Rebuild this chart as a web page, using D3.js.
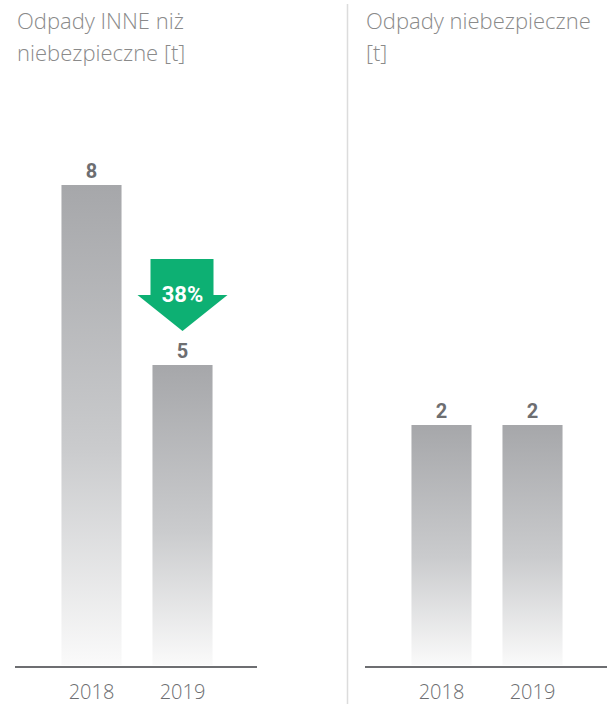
<!DOCTYPE html>
<html>
<head>
<meta charset="utf-8">
<script src="https://cdn.jsdelivr.net/npm/d3@7"></script>
<style>
  body { margin: 0; background: #fff; }
  text { font-family: Roboto, "Liberation Sans", sans-serif; }
</style>
</head>
<body>
<div id="chart"></div>
<script>
var svgWidth = 607;
var svgHeight = 704;

// data
var years = ["2018", "2019"];
var titles = [["Odpady INNE niż", "niebezpieczne [t]"], ["Odpady niebezpieczne", "[t]"]];
var otherWaste = [8, 5];
var hazardousWaste = [2, 2];
var panelMax = [8, 4];
var changeLabel = "38%";

var panels = [otherWaste, hazardousWaste];
var panelX = [0, 350];
var baseY = 665;
var topY = 185;
var lightFont = "'Open Sans', sans-serif";

var svg = d3.select("#chart")
  .append("svg")
  .attr("width", svgWidth)
  .attr("height", svgHeight);

var defs = svg.append("defs");
var grad = defs.append("linearGradient")
  .attr("id", "barGrad")
  .attr("x1", 0).attr("y1", 0).attr("x2", 0).attr("y2", 1);
grad.append("stop").attr("offset", "0%").attr("stop-color", "#a6a7aa");
grad.append("stop").attr("offset", "55%").attr("stop-color", "#cacbcd");
grad.append("stop").attr("offset", "100%").attr("stop-color", "#fafafa");

// divider
svg.append("line")
  .attr("x1", 347.5).attr("x2", 347.5)
  .attr("y1", 4).attr("y2", svgHeight)
  .attr("stroke", "#dcdcdc")
  .attr("stroke-width", 1.5);

panels.forEach(function(values, i) {
  var g = svg.append("g").attr("transform", `translate(${panelX[i]}, 0)`);

  var x = d3.scaleBand().domain(years).range([46, 228]).paddingInner(0.34).paddingOuter(0.17);
  var y = d3.scaleLinear().domain([0, panelMax[i]]).range([baseY, topY]);

  // title
  var tx = i == 0 ? 17 : 16;
  var t = g.append("text")
    .attr("x", tx)
    .attr("y", 29)
    .attr("fill", "#8a8a8a")
    .style("font-family", lightFont)
    .style("font-size", "22px")
    .style("font-weight", 300);
  titles[i].forEach(function(line, k) {
    t.append("tspan").attr("x", tx).attr("dy", k == 0 ? 0 : 32).text(line);
  });

  g.selectAll("rect.bar")
    .data(values)
    .enter()
    .append("rect")
    .attr("class", "bar")
    .attr("x", (d, j) => x(years[j]))
    .attr("y", d => y(d))
    .attr("width", x.bandwidth())
    .attr("height", d => baseY - y(d))
    .attr("fill", "url(#barGrad)");

  g.selectAll("text.val")
    .data(values)
    .enter()
    .append("text")
    .attr("class", "val")
    .attr("x", (d, j) => x(years[j]) + x.bandwidth() / 2)
    .attr("y", d => y(d) - 7)
    .attr("text-anchor", "middle")
    .attr("fill", "#6d6e71")
    .style("font-size", "20px")
    .style("font-weight", 700)
    .text(d => d);

  // axis
  var axis = g.append("g")
    .attr("transform", `translate(0, ${baseY + 2})`)
    .call(d3.axisBottom(x).tickSize(0).tickPadding(18));
  axis.select(".domain").remove();
  axis.append("line")
    .attr("x1", 15).attr("x2", 257)
    .attr("stroke", "#6d6e71")
    .attr("stroke-width", 2);
  axis.selectAll(".tick text")
    .attr("fill", "#6d6e71")
    .style("font-size", "20px")
    .style("font-weight", 300)
    .style("font-family", lightFont);

  if (i == 0) {
    // change arrow between bars
    var cx = x(years[1]) + x.bandwidth() / 2;
    var tip = y(values[1]) - 34;
    var arrow = d3.path();
    arrow.moveTo(cx - 32, tip - 72);
    arrow.lineTo(cx + 31, tip - 72);
    arrow.lineTo(cx + 31, tip - 36);
    arrow.lineTo(cx + 45, tip - 36);
    arrow.lineTo(cx, tip);
    arrow.lineTo(cx - 45, tip - 36);
    arrow.lineTo(cx - 32, tip - 36);
    arrow.closePath();
    g.append("path").attr("d", arrow.toString()).attr("fill", "#0db073");
    g.append("text")
      .attr("x", cx)
      .attr("y", tip - 29)
      .attr("text-anchor", "middle")
      .attr("fill", "#fff")
      .style("font-size", "22px")
      .style("font-weight", 700)
      .text(changeLabel);
  }
});
</script>
</body>
</html>
